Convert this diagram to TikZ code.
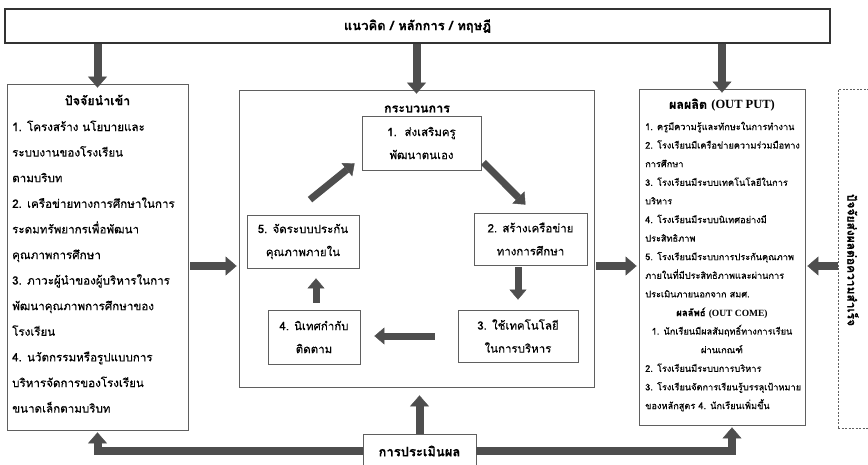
\documentclass[tikz,border=0pt]{standalone}
\usepackage{fontspec}
\setmainfont[Script=Thai,FakeBold=0.3]{Loma}
\newfontfamily\latser{Liberation Serif}
\usetikzlibrary{arrows.meta,calc}
\definecolor{arr}{RGB}{78,78,78}
\definecolor{bord}{RGB}{95,95,95}
\begin{document}
\begin{tikzpicture}[x=1pt,y=-1pt,
  box/.style={draw=bord,line width=0.8pt,fill=white,inner sep=0pt},
  blk/.style={draw=arr,line width=8pt,line join=miter,
    -{Triangle[width=19pt,length=11pt,line width=0.4pt]}},
  blks/.style={draw=arr,line width=7pt,
    -{Triangle[width=17pt,length=10pt,line width=0.4pt]}},
  lt/.style={anchor=base west,inner sep=0pt,font=\fontsize{11.6}{12}\selectfont},
  rt/.style={anchor=base west,inner sep=0pt,font=\fontsize{9.2}{10}\selectfont},
  rc/.style={anchor=base,inner sep=0pt,font=\fontsize{9.2}{10}\selectfont},
  pt/.style={box,align=center,font=\fontsize{11.5}{23}\selectfont},
  ttl/.style={inner sep=0pt,font=\bfseries\fontsize{12.5}{14}\selectfont}
]
\useasboundingbox (0,0) rectangle (868,464);

% main boxes
\node[box,line width=1.5pt,draw=black!80,minimum width=825pt,minimum height=34pt,
  font=\bfseries\fontsize{13}{14}\selectfont] (top) at (417.5,26) {แนวคิด / หลักการ / ทฤษฎี};
\node[box,minimum width=181pt,minimum height=346pt] (inp) at (97.5,257) {};
\node[box,minimum width=355pt,minimum height=297pt] (proc) at (416.5,238.5) {};
\node[box,minimum width=166pt,minimum height=336pt] (out) at (722,257) {};
\node[box,draw=bord,dash pattern=on 2pt off 1.5pt,line width=0.6pt,minimum width=42pt,minimum height=339pt] (dash) at (859,258.5) {};
\node[ttl,rotate=-90,font=\bfseries\fontsize{12}{14}\selectfont] (dtxt) at (853,260) {ปัจจัยส่งผลต่อความสำเร็จ};

% input text
\node[ttl] (inpt) at (97.5,100) {ปัจจัยนำเข้า};
\foreach \t [count=\i] in {1. โครงสร้าง นโยบายและ, ระบบงานของโรงเรียน, ตามบริบท,
  2. เครือข่ายทางการศึกษาในการ, ระดมทรัพยากรเพื่อพัฒนา, คุณภาพการศึกษา,
  3. ภาวะผู้นำของผู้บริหารในการ, พัฒนาคุณภาพการศึกษาของ, โรงเรียน,
  4. นวัตกรรมหรือรูปแบบการ, บริหารจัดการของโรงเรียน, ขนาดเล็กตามบริบท}
  \node[lt] (l\i) at (12,{131+(\i-1)*25.6}) {\t};

% process
\node[ttl] (proct) at (417,109) {กระบวนการ};
\node[pt,minimum width=119pt,minimum height=54pt] (b1) at (421.5,143) {1.\ \ ส่งเสริมครู\\พัฒนาตนเอง};
\node[pt,minimum width=113pt,minimum height=52pt] (b2) at (530.5,239) {2. สร้างเครือข่าย\\ทางการศึกษา};
\node[pt,minimum width=120pt,minimum height=52pt] (b3) at (518,336) {3. ใช้เทคโนโลยี\\ในการบริหาร};
\node[pt,minimum width=92pt,minimum height=54pt] (b4) at (314,337) {4. นิเทศกำกับ\\ติดตาม};
\node[pt,minimum width=112pt,minimum height=53pt] (b5) at (303,241.5) {5. จัดระบบประกัน\\คุณภาพภายใน};

% output text
\node[ttl,font=\bfseries\fontsize{12.5}{14}\selectfont] (outt) at (722,105) {ผลผลิต {\latser(OUT PUT)}};
\foreach \k/\t in {1/1. ครูมีความรู้และทักษะในการทำงาน, 2/2. โรงเรียนมีเครือข่ายความร่วมมือทาง,
  3/การศึกษา, 4/3. โรงเรียนมีระบบเทคโนโลยีในการ, 5/บริหาร, 6/4. โรงเรียนมีระบบนิเทศอย่างมี,
  7/ประสิทธิภาพ, 8/5. โรงเรียนมีระบบการประกันคุณภาพ, 9/ภายในที่มีประสิทธิภาพและผ่านการ,
  10/ประเมินภายนอกจาก สมศ., 14/2. โรงเรียนมีระบบการบริหาร,
  15/3. โรงเรียนจัดการเรียนรู้บรรลุเป้าหมาย, 16/ของหลักสูตร 4. นักเรียนเพิ่มขึ้น}
  \node[rt] (r\k) at (645,{130+(\k-1)*18.6}) {\t};
\node[rc,font=\bfseries\fontsize{9.5}{10}\selectfont] (r11) at (722,{130+10*18.6}) {ผลลัพธ์ {\latser(OUT COME)}};
\node[rc] (r12) at (722,{130+11*18.6}) {1. นักเรียนมีผลสัมฤทธิ์ทางการเรียน};
\node[rc] (r13) at (722,{130+12*18.6}) {ผ่านเกณฑ์};

% evaluation
\node[box,minimum width=113pt,minimum height=34pt,font=\bfseries\fontsize{13}{14}\selectfont] (eval) at (419.5,451) {การประเมินผล};

% arrows from top
\draw[blk] (top.south -| inp.north) -- ([yshift=-4pt]inp.north);
\draw[blk] (top.south -| proc.north) -- ([yshift=-4pt]proc.north);
\draw[blk] (top.south -| out.north) -- ([yshift=-4pt]out.north);

% horizontal
\coordinate (hy) at (0,266);
\draw[blk,shorten <=2pt,shorten >=2pt] (inp.east |- hy) -- (proc.west |- hy);
\draw[blk,shorten <=2pt,shorten >=2pt] (proc.east |- hy) -- (out.west |- hy);
\draw[blk,shorten >=2pt] (dash.west |- hy) -- (out.east |- hy);

% bottom feedback
\draw[blk] (eval.west) -| ([yshift=-2pt]inp.south);
\draw[blk] (eval.east) -| ([xshift=10pt,yshift=-2pt]out.south);
\draw[blk] (eval.north) -- ([yshift=-8pt]eval.north |- proc.south);

% cycle
\draw[blks] ([shift={(2,-8)}]b1.south east) -- ([shift={(-5,-8)}]b2.north);
\draw[blks,shorten <=2pt,shorten >=10pt] (b3.north |- b2.south) -- (b3.north);
\draw[blks,shorten <=23pt,shorten >=14pt] (b3.west) -- (b4.east |- b3.west);
\draw[blks,shorten <=7pt,shorten >=10pt] (b4.north -| 316,0) -- (b5.south -| 316,0);
\draw[blks] ([shift={(7,-15)}]b5.north) -- ([shift={(-7,-7)}]b1.south west);
\end{tikzpicture}
\end{document}
